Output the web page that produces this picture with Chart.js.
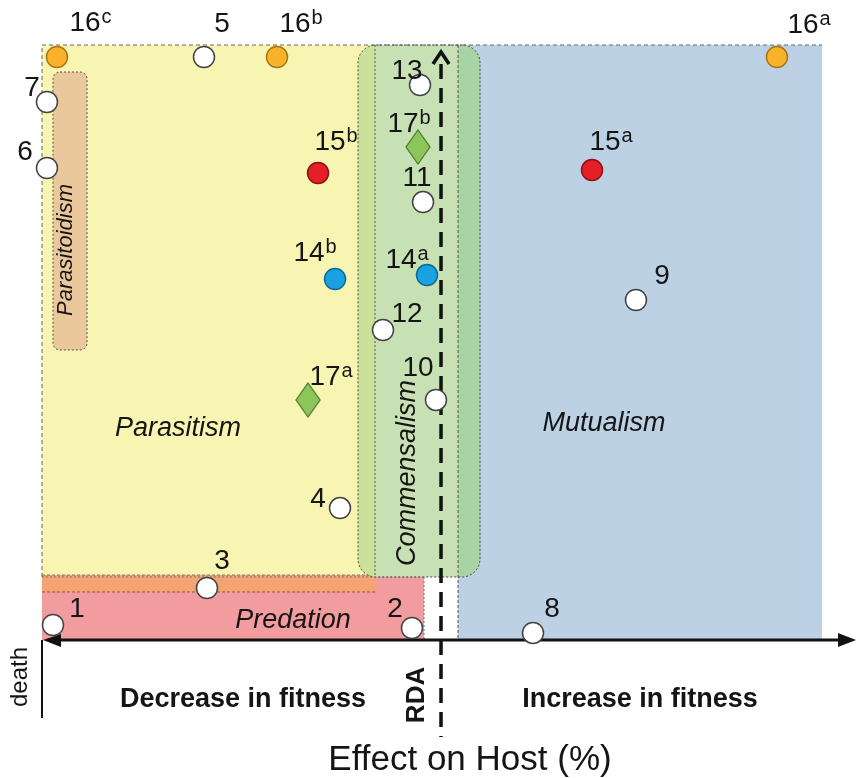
<!DOCTYPE html>
<html><head><meta charset="utf-8">
<script src="https://cdn.jsdelivr.net/npm/chart.js@4/dist/chart.umd.min.js"></script>
<style>html,body{margin:0;padding:0;background:#fff}canvas{display:block}</style>
</head><body>
<canvas id="c" width="856" height="778"></canvas>
<script>
// ---- data (x: effect on host, y: arbitrary level) ----
const whiteIds    = ['1','2','3','4','5','6','7','8','9','10','11','12','13'];
const whiteEffect = [1.35, 45.45, 20.27, 36.61, 19.90, 0.61, 0.61, 60.32, 72.97, 48.40, 46.81, 41.89, 46.44];
const whiteLevel  = [2.52, 2.02, 8.74, 22.18, 97.98, 79.33, 90.42, 1.18, 57.14, 40.34, 73.61, 52.10, 93.28];
const blueIds     = ['14a','14b'];
const blueEffect  = [47.30, 36.00];
const blueLevel   = [61.34, 60.67];
const redIds      = ['15a','15b'];
const redEffect   = [67.57, 33.91];
const redLevel    = [78.99, 78.49];
const orangeIds   = ['16a','16b','16c'];
const orangeEffect= [90.29, 28.87, 1.84];
const orangeLevel = [97.98, 97.98, 97.98];
const greenIds    = ['17a','17b'];
const greenEffect = [32.68, 46.19];
const greenLevel  = [40.34, 82.86];

// label offsets (px) per point, style only
const whiteOff  = [[24,-16],[-17,-19],[15,-27],[-22,-9],[18,-33],[-22,-16],[-15,-14],[19,-24],[26,-24],[-18,-32],[-6,-24],[24,-16],[-13,-14]];
const blueOff   = [[-26,-15],[-26,-26]];
const redOff    = [[13,-28],[12,-31]];
const orangeOff = [[26,-32],[18,-33],[28,-34]];
const greenOff  = [[17,-23],[-15,-23]];

// zone boundaries in axis units
const RDA = 49.02;
const zoneX = {parEnd:40.91, comL:38.82, comR:53.81, predEnd:46.93, mutStart:51.11, mutEnd:95.82, ptdL:1.35, ptdR:5.53};
const zoneY = {top:100, lowTop:10.59, orTop:10.92, orBot:8.07, ptdTop:95.46, ptdBot:48.74, rdaTop:98.82, rdaBot:-16.3, deathBot:-13.11};

const FONT = '"Liberation Sans", Arial, sans-serif';

function mk(ids, ex, ly){ return ex.map((v,i)=>({x:v, y:ly[i], id:ids[i]})); }

const diamond = document.createElement('canvas');
diamond.width = 26; diamond.height = 36;
(function(){
  const g = diamond.getContext('2d');
  g.beginPath(); g.moveTo(13,1); g.lineTo(25,18); g.lineTo(13,35); g.lineTo(1,18); g.closePath();
  g.fillStyle = '#8CC55A'; g.fill(); g.strokeStyle = '#4E7F30'; g.lineWidth = 1.3; g.stroke();
})();

function dotted(ctx, pts, dash, color, lw){
  ctx.save(); ctx.setLineDash(dash||[2,2]); ctx.strokeStyle = color||'#555'; ctx.lineWidth = lw||1;
  ctx.beginPath(); ctx.moveTo(pts[0],pts[1]);
  for(let i=2;i<pts.length;i+=2) ctx.lineTo(pts[i],pts[i+1]);
  ctx.stroke(); ctx.restore();
}

const zonesPlugin = {
  id:'zones',
  beforeDatasetsDraw(chart){
    const ctx = chart.ctx, sx = chart.scales.x, sy = chart.scales.y;
    const X = v=>sx.getPixelForValue(v), Y = v=>sy.getPixelForValue(v);
    const x0 = X(0), yT = Y(zoneY.top), yB = Y(0), yLow = Y(zoneY.lowTop);
    ctx.save();
    // mutualism
    ctx.fillStyle = '#BDD1E4';
    ctx.fillRect(X(zoneX.mutStart), yT, X(zoneX.mutEnd)-X(zoneX.mutStart), yB-yT);
    // parasitism
    ctx.fillStyle = '#F8F4B1';
    ctx.fillRect(x0, yT, X(zoneX.parEnd)-x0, yLow-yT);
    // predation
    ctx.fillStyle = '#F29CA0';
    ctx.fillRect(x0, yLow, X(zoneX.predEnd)-x0, yB-yLow);
    // orange strip
    ctx.fillStyle = '#F5A371';
    ctx.beginPath(); ctx.roundRect(x0, Y(zoneY.orTop), X(zoneX.parEnd)-x0, Y(zoneY.orBot)-Y(zoneY.orTop), [0,5,0,0]); ctx.fill();
    dotted(ctx,[x0,Y(zoneY.orTop),X(zoneX.parEnd),Y(zoneY.orTop)],[3,2],'#777');
    dotted(ctx,[x0,Y(zoneY.orBot),X(zoneX.parEnd),Y(zoneY.orBot)],[3,2],'#8a5a40');
    // commensalism box
    const cl = X(zoneX.comL), cr = X(zoneX.comR);
    ctx.save();
    ctx.beginPath(); ctx.roundRect(cl, yT, cr-cl, yLow-yT, 18); ctx.clip();
    ctx.fillStyle = '#CBE099'; ctx.fillRect(cl, yT, X(zoneX.parEnd)-cl, yLow-yT);
    ctx.fillStyle = '#C7E1B4'; ctx.fillRect(X(zoneX.parEnd), yT, X(zoneX.mutStart)-X(zoneX.parEnd), yLow-yT);
    ctx.fillStyle = '#A8D3A3'; ctx.fillRect(X(zoneX.mutStart), yT, cr-X(zoneX.mutStart), yLow-yT);
    ctx.restore();
    ctx.save(); ctx.setLineDash([2,2]); ctx.strokeStyle='#444'; ctx.lineWidth=1;
    ctx.beginPath(); ctx.roundRect(cl, yT, cr-cl, yLow-yT, 18); ctx.stroke(); ctx.restore();
    // zone borders
    dotted(ctx,[x0,yLow,x0,yT,X(zoneX.mutEnd),yT],[4,3],'#666');
    dotted(ctx,[X(zoneX.parEnd),yT,X(zoneX.parEnd),yLow],[2,2],'#555');
    dotted(ctx,[X(zoneX.mutStart),yT,X(zoneX.mutStart),yB],[3,2],'#555');
    dotted(ctx,[X(zoneX.predEnd),yLow,X(zoneX.predEnd),yB],[2,2],'#777');
    dotted(ctx,[x0,yLow,X(zoneX.predEnd),yLow],[2,2],'#777');
    // parasitoidism box
    ctx.fillStyle = '#EBC89C';
    ctx.beginPath(); ctx.roundRect(X(zoneX.ptdL), Y(zoneY.ptdTop), X(zoneX.ptdR)-X(zoneX.ptdL), Y(zoneY.ptdBot)-Y(zoneY.ptdTop), 7); ctx.fill();
    ctx.setLineDash([2,2]); ctx.strokeStyle='#555'; ctx.lineWidth=1; ctx.stroke(); ctx.setLineDash([]);
    // RDA dashed line with arrowhead
    const rx = X(RDA);
    ctx.strokeStyle = '#111'; ctx.lineWidth = 3.5;
    ctx.setLineDash([15,9]);
    ctx.beginPath(); ctx.moveTo(rx, Y(zoneY.rdaTop)+12); ctx.lineTo(rx, Y(zoneY.rdaBot)); ctx.stroke();
    ctx.setLineDash([]);
    ctx.lineWidth = 3.5; ctx.lineJoin='miter';
    ctx.beginPath(); ctx.moveTo(rx-8, Y(zoneY.rdaTop)+12); ctx.lineTo(rx, Y(zoneY.rdaTop)); ctx.lineTo(rx+8, Y(zoneY.rdaTop)+12); ctx.stroke();
    // horizontal axis with arrows
    ctx.lineWidth = 3; ctx.strokeStyle='#111'; ctx.fillStyle='#111';
    ctx.beginPath(); ctx.moveTo(x0+6, yB); ctx.lineTo(X(100)-6, yB); ctx.stroke();
    ctx.beginPath(); ctx.moveTo(X(100), yB); ctx.lineTo(X(100)-18, yB-7); ctx.lineTo(X(100)-18, yB+7); ctx.closePath(); ctx.fill();
    ctx.beginPath(); ctx.moveTo(x0+1, yB); ctx.lineTo(x0+19, yB-6); ctx.lineTo(x0+19, yB+7); ctx.closePath(); ctx.fill();
    // death line
    ctx.lineWidth = 2;
    ctx.beginPath(); ctx.moveTo(x0, yB); ctx.lineTo(x0, Y(zoneY.deathBot)); ctx.stroke();
    ctx.restore();
  },
  afterDatasetsDraw(chart){
    const ctx = chart.ctx, sx = chart.scales.x, sy = chart.scales.y;
    const X = v=>sx.getPixelForValue(v), Y = v=>sy.getPixelForValue(v);
    ctx.save();
    ctx.fillStyle = '#151515';
    // point ids
    chart.data.datasets.forEach((ds, di)=>{
      const meta = chart.getDatasetMeta(di);
      meta.data.forEach((el, i)=>{
        const id = ds.data[i].id, off = ds.labelOffsets[i];
        const m = id.match(/^(\d+)([a-z]?)$/);
        const cx = el.x + off[0], cy = el.y + off[1];
        ctx.font = '28px ' + FONT; ctx.textAlign='center'; ctx.textBaseline='middle';
        ctx.fillText(m[1], cx, cy);
        if (m[2]) {
          const w = ctx.measureText(m[1]).width;
          ctx.font = '20px ' + FONT; ctx.textAlign='left'; ctx.textBaseline='alphabetic';
          ctx.fillText(m[2], cx + w/2 + 1, cy);
        }
      });
    });
    function txt(s, x, y, font, rot){
      ctx.save(); ctx.translate(X(x), Y(y)); if (rot) ctx.rotate(rot);
      ctx.font = font; ctx.textAlign='center'; ctx.textBaseline='middle';
      ctx.fillText(s, 0, 0); ctx.restore();
    }
    txt('Parasitism', 16.71, 35.63, 'italic 27px ' + FONT);
    txt('Mutualism', 69.04, 36.47, 'italic 27px ' + FONT);
    txt('Predation', 30.84, 3.36, 'italic 27px ' + FONT);
    txt('Commensalism', 44.96, 28.07, 'italic 27px ' + FONT, -Math.PI/2);
    txt('Parasitoidism', 2.95, 65.55, 'italic 22px ' + FONT, -Math.PI/2);
    txt('death', -2.70, -6.22, '24px ' + FONT, -Math.PI/2);
    txt('RDA', 46.07, -9.24, 'bold 26px ' + FONT, -Math.PI/2);
    txt('Decrease in fitness', 24.69, -10.08, 'bold 27px ' + FONT);
    txt('Increase in fitness', 73.46, -10.08, 'bold 27px ' + FONT);
    txt('Effect on Host (%)', 52.58, -20.17, '35px ' + FONT);
    ctx.restore();
  }
};

const common = {pointRadius:10.5, pointHoverRadius:10.5, borderWidth:1.5, clip:false, showLine:false};
new Chart(document.getElementById('c'), {
  type:'scatter',
  data:{datasets:[
    Object.assign({label:'white', data:mk(whiteIds, whiteEffect, whiteLevel), backgroundColor:'#FFFFFF', borderColor:'#444', labelOffsets:whiteOff}, common),
    Object.assign({label:'14', data:mk(blueIds, blueEffect, blueLevel), backgroundColor:'#1AA1E1', borderColor:'#0F6A97', labelOffsets:blueOff}, common),
    Object.assign({label:'15', data:mk(redIds, redEffect, redLevel), backgroundColor:'#E51F25', borderColor:'#8B1216', labelOffsets:redOff}, common),
    Object.assign({label:'16', data:mk(orangeIds, orangeEffect, orangeLevel), backgroundColor:'#F9B32B', borderColor:'#A8761A', labelOffsets:orangeOff}, common),
    Object.assign({label:'17', data:mk(greenIds, greenEffect, greenLevel), pointStyle:diamond, labelOffsets:greenOff}, common)
  ]},
  options:{
    responsive:false, devicePixelRatio:1, animation:false,
    layout:{autoPadding:false, padding:{left:42, right:0, top:45, bottom:138}},
    scales:{
      x:{type:'linear', min:0, max:100, display:false},
      y:{type:'linear', min:0, max:100, display:false}
    },
    plugins:{legend:{display:false}, tooltip:{enabled:false}}
  },
  plugins:[zonesPlugin]
});
</script>
</body></html>
